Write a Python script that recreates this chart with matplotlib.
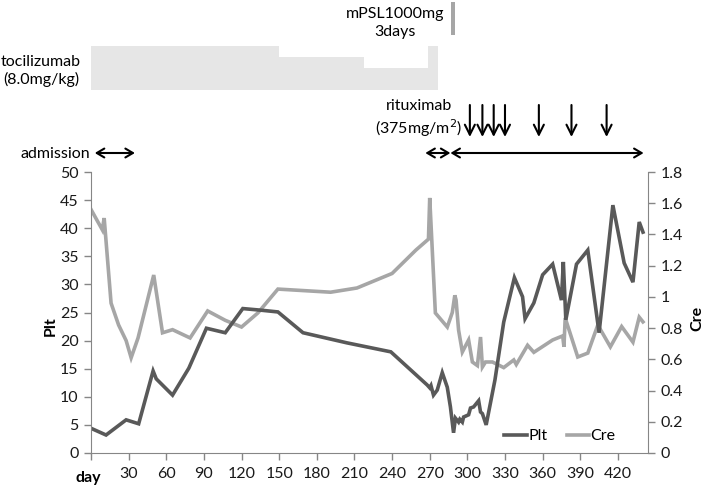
import numpy as np
import matplotlib
matplotlib.use("Agg")
import matplotlib.pyplot as plt

plt.rcParams['font.family'] = ['Lato', 'DejaVu Sans']

# platelet count (x10^4/uL) by day
plt_days = [0, 12, 28, 38, 49.5, 52, 65, 78, 92, 107, 121, 136, 149, 169, 204, 239,
            268, 270, 271, 273, 276, 280, 284, 286.5, 289, 290.5, 293, 294, 296, 297,
            301, 302.5, 305, 309, 310.5, 312, 315, 322, 329, 337.5, 344, 346, 353, 360,
            368, 375, 376.5, 378.5, 387, 396, 405, 416, 425, 432, 437, 440]
plt_vals = [4.4, 3.2, 5.9, 5.2, 14.6, 13.2, 10.3, 15.1, 22.2, 21.4, 25.7, 25.4, 25.1, 21.4,
            19.6, 18.0, 12.1, 11.6, 12.0, 10.3, 11.2, 14.3, 11.7, 8.2, 3.6, 6.2, 5.5, 6.0,
            5.5, 6.4, 6.8, 8.0, 8.2, 9.3, 7.3, 7.0, 5.0, 13.0, 23.3, 31.2, 27.8, 23.9, 26.7,
            31.7, 33.6, 27.2, 34.0, 23.7, 33.6, 36.1, 21.4, 44.1, 33.8, 30.4, 41.1, 39.3]

# creatinine (mg/dL) by day
cre_days = [0, 9, 10.5, 16, 22, 28, 32, 37.5, 50, 57, 65, 79, 93, 107, 120, 133, 149, 191,
            212, 240, 259, 269, 270, 274.5, 284, 288, 290, 291, 293, 296, 301, 304, 308,
            310.5, 312, 314.5, 320, 329, 337, 339, 348, 353, 368, 376, 377, 378, 388, 396,
            404, 414, 423, 432, 437, 440]
cre_vals = [1.56, 1.43, 1.505, 0.96, 0.82, 0.72, 0.61, 0.737, 1.14, 0.77, 0.79, 0.737, 0.91,
            0.85, 0.807, 0.897, 1.05, 1.03, 1.057, 1.15, 1.30, 1.37, 1.634, 0.897, 0.807,
            0.90, 1.01, 0.98, 0.788, 0.647, 0.724, 0.583, 0.56, 0.743, 0.551, 0.583, 0.583,
            0.547, 0.596, 0.567, 0.69, 0.645, 0.724, 0.75, 0.68, 0.865, 0.615, 0.64, 0.82,
            0.68, 0.81, 0.71, 0.87, 0.84]

# treatment periods
toci_edges = [0, 150, 218, 269, 277]
toci_level = [1.0, 0.75, 0.5, 1.0]
mpsl_days = [287, 290]
rtx_days = [302, 312, 321, 330, 357, 383, 411]
admission = [3, 35]
periods = [(266.5, 286.5), (286.5, 440.5)]

x_ticks = list(range(30, 421, 30))
plt_ticks = list(range(0, 51, 5))
cre_ticks = [0, 0.2, 0.4, 0.6, 0.8, 1, 1.2, 1.4, 1.6, 1.8]

W, H = 708, 491
dark = '#595959'
light = '#a6a6a6'
axis_col = '#868686'


def fx(px):
    return px / W


def fy(py):
    return 1 - py / H


fig = plt.figure(figsize=(W / 100, H / 100), dpi=100)
ax = fig.add_axes([fx(91), fy(453), (648 - 91) / W, (453 - 172) / H])
ax2 = ax.twinx()

l1, = ax.plot(plt_days, plt_vals, color=dark, lw=2.6, label='Plt', solid_joinstyle='miter')
l2, = ax2.plot(cre_days, cre_vals, color=light, lw=2.6, label='Cre', solid_joinstyle='miter')
ax.set_zorder(ax2.get_zorder() + 1)
ax.patch.set_visible(False)

ax.set_xlim(0, 444)
ax.set_ylim(0, 50)
ax2.set_ylim(0, 1.8)
ax.set_xticks([0] + x_ticks)
ax.set_xticklabels([''] + [str(t) for t in x_ticks])
ax.set_yticks(plt_ticks)
ax2.set_yticks(cre_ticks)
ax2.set_yticklabels([f'{t:g}' for t in cre_ticks])

for a in (ax, ax2):
    for s in a.spines.values():
        s.set_color(axis_col)
    a.spines['top'].set_visible(False)
    a.tick_params(colors=axis_col, labelcolor='#1a1a1a', labelsize=11.5, length=5, width=1)
ax.spines['right'].set_visible(False)
ax2.spines['left'].set_visible(False)
ax2.spines['bottom'].set_visible(False)
ax.tick_params(axis='x', pad=5)
ax.tick_params(axis='y', pad=4)
ax2.tick_params(axis='y', pad=4)

ax.legend([l1, l2], ['Plt', 'Cre'], loc='center', bbox_to_anchor=(0.842, 0.06), ncol=2,
          frameon=False, handlelength=1.4, handletextpad=0.1, columnspacing=1.2,
          fontsize=11.5)

fig.text(fx(88), fy(478), 'day', ha='center', va='center', fontsize=11.5, fontweight='bold')
fig.text(fx(51), fy(326), 'Plt', ha='center', va='center', rotation=90, fontsize=11.5,
         fontweight='bold')
fig.text(fx(697), fy(318), 'Cre', ha='center', va='center', rotation=90, fontsize=11.5,
         fontweight='bold')

# treatment timeline above the plot
top = fig.add_axes([fx(91), fy(172), (648 - 91) / W, 172 / H])
top.set_xlim(ax.get_xlim())
top.set_ylim(0, 172)
top.axis('off')

widths = np.diff(toci_edges)
top.bar(toci_edges[:-1], np.array(toci_level) * 44, width=widths, bottom=82, align='edge',
        color='#e6e6e6', edgecolor='none')
top.bar(mpsl_days[0], 33, width=mpsl_days[1] - mpsl_days[0], bottom=137, align='edge',
        color=light, edgecolor='none')

fig.text(fx(41), fy(71), 'tocilizumab\n(8.0mg/kg)', ha='center', va='center',
         multialignment='center', fontsize=11.5, linespacing=1.3)
fig.text(fx(395), fy(23), 'mPSL1000mg\n3days', ha='center', va='center',
         multialignment='center', fontsize=11.5, linespacing=1.3)
fig.text(fx(419), fy(119), 'rituximab\n(375mg/m$^2$)', ha='center', va='center',
         multialignment='center', fontsize=11.5, linespacing=1.3)
fig.text(fx(90), fy(154), 'admission', ha='right', va='center', fontsize=11.5)

for d in rtx_days:
    top.annotate('', xy=(d, 35), xytext=(d, 67), annotation_clip=False,
                 arrowprops=dict(arrowstyle='->,head_length=0.36,head_width=0.18',
                                 mutation_scale=20, lw=1.5, color='black',
                                 shrinkA=0, shrinkB=0))

for start, end in [tuple(admission)] + periods:
    top.annotate('', xy=(end, 19), xytext=(start, 19), annotation_clip=False,
                 arrowprops=dict(arrowstyle='<->,head_length=0.27,head_width=0.16',
                                 mutation_scale=20, lw=1.5, color='black',
                                 shrinkA=0, shrinkB=0))

fig.savefig('out.png', dpi=100)
